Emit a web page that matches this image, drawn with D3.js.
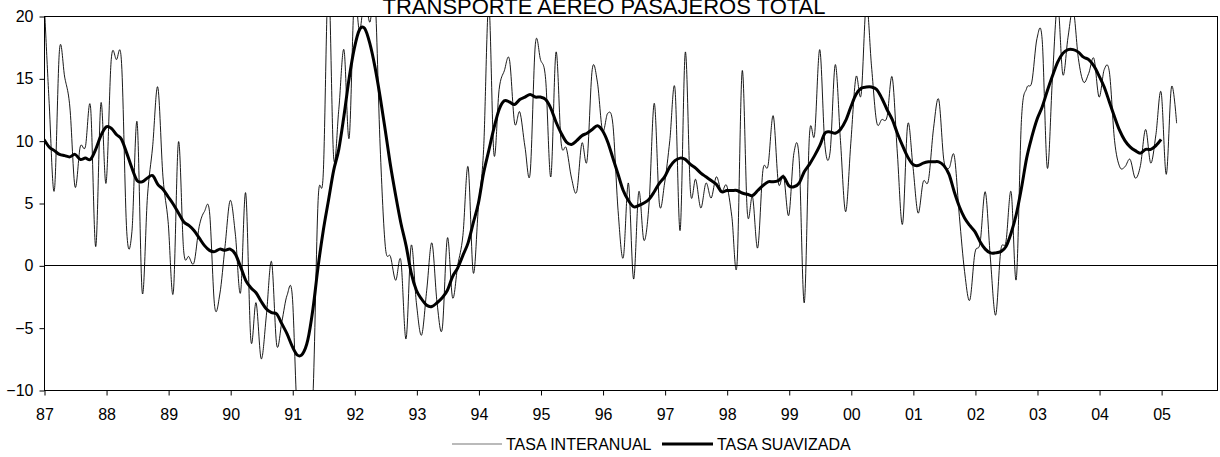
<!DOCTYPE html>
<html>
<head>
<meta charset="utf-8">
<script src="https://cdn.jsdelivr.net/npm/d3@7"></script>
<style>
  body { margin: 0; background: #fff; }
  svg { display: block; }
  text { font-family: Arial, "Liberation Sans", sans-serif; fill: #000; }
</style>
</head>
<body>
<svg id="chart" width="1220" height="457"></svg>
<script>
// Chart text
const chartTitle = 'TRANSPORTE AEREO PASAJEROS TOTAL';
const seriesNames = ['TASA INTERANUAL', 'TASA SUAVIZADA'];

// Category axis: months from Jan 87 to Dec 05, labelled once a year
const monthCount = 228;
const yearLabels = ['87', '88', '89', '90', '91', '92', '93', '94', '95', '96',
  '97', '98', '99', '00', '01', '02', '03', '04', '05'];
const yTicks = [-10, -5, 0, 5, 10, 15, 20];

// Monthly year-on-year rate (thin line), Jan 87 - Apr 05
const tasaInteranual = [
  21.5, 13, 6.0, 17.3, 15.1, 12.7, 6.3, 9.5, 9.5, 12.7, 1.5, 13.0,
  6.6, 16.5, 16.5, 16.2, 2.7, 2.7, 11.5, -2.2, 5.5, 9.5, 14.3, 7.1,
  3.5, -2.2, 9.9, 1.2, 0.7, 0.2, 3.1, 4.3, 4.3, -3.3, -2.3, 1.5,
  5.2, 2.5, -2.2, 5.8, -6.0, -3.0, -7.5, -4.0, 0.3, -6.4, -4.5, -2.4,
  -2.4, -12, -10.1, -13, -10.5, 5.2, 7.4, 23, 8.7, 12.5, 17.3, 10.2,
  21.5, 18.8, 21.5, 19.5, 21.5, 9.5, 1.5, 0.7, -1.2, 0.4, -5.9, 1.6,
  -3.0, -5.6, -2.0, 1.8, -3.0, -5.1, 2.2, -2.6, 0.0, 2.4, 7.9, -0.6,
  4.7, 9.3, 21, 8.9, 14.1, 15.6, 16.5, 11.4, 12.3, 9.5, 7.4, 17.7,
  16.5, 14.9, 7.1, 17.1, 9.8, 9.4, 7.0, 5.9, 9.8, 8.4, 15.7, 14.7,
  10.8, 12.2, 11.3, 4.4, 0.6, 6.6, -1.1, 5.9, 2.0, 5.0, 13.0, 4.9,
  6.6, 10.0, 14.2, 2.8, 17.1, 5.9, 6.9, 4.6, 6.6, 5.4, 7.1, 5.9,
  6.4, 3.9, 0.1, 15.6, 4.2, 5.5, 1.4, 7.6, 8.0, 12.0, 6.6, 7.2,
  4.0, 9.0, 8.6, -3.0, 10.4, 10.5, 17.3, 9.6, 9.1, 16.1, 10.0, 4.3,
  9.8, 15.1, 13.7, 21, 16, 11.5, 11.7, 11.9, 15.1, 9.0, 3.3, 11.3,
  8.0, 4.2, 6.7, 6.8, 11.0, 13.3, 8.4, 7.8, 8.8, 3.9, -0.5, -2.8,
  1.0, 1.8, 5.9, 0.5, -4.0, 1.2, 1.9, 5.9, -1.1, 11.7, 14.2, 14.7,
  18.2, 18.1, 7.8, 15.1, 21, 15.3, 18.3, 20.5, 16.6, 14.7, 15.4, 16.6,
  13.5, 15.7, 15.5, 10.0, 7.9, 7.9, 8.5, 7.0, 8.0, 10.9, 8.2, 10.5,
  13.9, 7.3, 14.3, 11.4
];

// Smoothed rate (thick line), Jan 87 - Jan 05
const tasaSuavizada = [
  10.1, 9.5, 9.2, 8.9, 8.8, 8.7, 8.9, 8.5, 8.6, 8.5, 9.3, 10.4,
  11.1, 11.0, 10.5, 10.1, 9.0, 7.8, 6.8, 6.7, 7.0, 7.2, 6.5, 6.1,
  5.5, 4.9, 4.2, 3.5, 3.2, 2.8, 2.2, 1.6, 1.2, 1.1, 1.3, 1.2,
  1.3, 0.9, -0.1, -1.2, -1.8, -2.2, -2.9, -3.5, -3.8, -3.9, -4.7, -5.5,
  -6.5, -7.2, -7.1, -6.0, -3.5, -0.1, 2.8, 5.2, 7.6, 9.3, 12.0, 15.0,
  17.4, 18.9, 19.0, 17.8, 15.9, 13.5, 10.8, 8.0, 5.6, 3.4, 1.6, -0.6,
  -2.0, -2.7, -3.2, -3.3, -3.0, -2.6, -2.0, -0.9, -0.2, 0.8, 1.8, 3.4,
  5.0, 7.4, 9.2, 11.0, 12.5, 13.2, 13.1, 12.9, 13.3, 13.5, 13.7, 13.5,
  13.5, 13.3, 12.6, 11.5, 10.6, 9.9, 9.7, 10.0, 10.4, 10.6, 10.9, 11.2,
  10.8, 9.9, 8.6, 7.3, 6.0, 5.2, 4.7, 4.8, 5.0, 5.3, 5.9, 6.6,
  7.1, 7.9, 8.4, 8.6, 8.5, 8.1, 7.8, 7.4, 7.1, 6.8, 6.5, 5.9,
  6.0, 6.0, 6.0, 5.8, 5.7, 5.6, 6.0, 6.4, 6.7, 6.7, 6.8, 7.1,
  6.4, 6.3, 6.6, 7.5, 8.1, 8.8, 9.6, 10.6, 10.7, 10.6, 10.9, 11.6,
  12.7, 13.7, 14.2, 14.3, 14.3, 14.1, 13.4, 12.5, 11.7, 10.6, 9.6, 8.7,
  8.1, 8.0, 8.2, 8.3, 8.3, 8.3, 8.0, 7.3, 5.9, 4.7, 3.8, 3.2,
  2.7, 1.9, 1.3, 1.0, 1.0, 1.1, 1.5, 2.6, 4.1, 6.2, 8.6, 10.3,
  11.7, 12.7, 14.0, 15.2, 16.3, 17.0, 17.3, 17.3, 17.1, 16.7, 16.5, 16.0,
  15.2, 14.3, 13.1, 11.9, 10.8, 10.0, 9.5, 9.2, 9.0, 9.3, 9.3, 9.6,
  10.1
];

const svg = d3.select('#chart');

// Plot area
const plot = { left: 44, right: 1218, top: 16, bottom: 390 };

const x = d3.scaleLinear()
  .domain([0, monthCount - 1])
  .range([plot.left, plot.right]);

const y = d3.scaleLinear()
  .domain([-10, 20])
  .range([plot.bottom, plot.top]);

// Clip so lines that go past the axis range are cut at the frame
svg.append('defs')
  .append('clipPath')
  .attr('id', 'plot-clip')
  .append('rect')
  .attr('x', plot.left)
  .attr('y', plot.top)
  .attr('width', plot.right - plot.left)
  .attr('height', plot.bottom - plot.top);

// Title (top edge of the letters runs off the picture, as in the original)
svg.append('text')
  .attr('x', 604)
  .attr('y', 14)
  .attr('text-anchor', 'middle')
  .style('font-size', '22px')
  .text(chartTitle);

// Zero line
svg.append('line')
  .attr('x1', plot.left)
  .attr('x2', plot.right)
  .attr('y1', Math.round(y(0)) + 0.5)
  .attr('y2', Math.round(y(0)) + 0.5)
  .attr('stroke', '#000')
  .attr('stroke-width', 1);

// Series
const line = d3.line()
  .x((d, i) => x(i))
  .y(d => y(d))
  .curve(d3.curveCardinal);

const series = svg.append('g').attr('clip-path', 'url(#plot-clip)');

series.append('path')
  .datum(tasaInteranual)
  .attr('d', line)
  .attr('fill', 'none')
  .attr('stroke', '#000')
  .attr('stroke-width', 0.9);

series.append('path')
  .datum(tasaSuavizada)
  .attr('d', line)
  .attr('fill', 'none')
  .attr('stroke', '#000')
  .attr('stroke-width', 3)
  .attr('stroke-linejoin', 'round');

// Frame
svg.append('rect')
  .attr('x', plot.left + 0.5)
  .attr('y', plot.top + 0.5)
  .attr('width', plot.right - plot.left - 1)
  .attr('height', plot.bottom - plot.top)
  .attr('fill', 'none')
  .attr('stroke', '#000')
  .attr('stroke-width', 1);

// Axes
const yAxis = svg.append('g')
  .attr('transform', `translate(${plot.left + 0.5},0.5)`)
  .call(d3.axisLeft(y).tickValues(yTicks).tickSize(5).tickSizeOuter(0).tickPadding(6));

const xAxis = svg.append('g')
  .attr('transform', `translate(0.5,${plot.bottom + 0.5})`)
  .call(d3.axisBottom(x)
    .tickValues(yearLabels.map((d, i) => i * 12))
    .tickFormat(d => yearLabels[d / 12])
    .tickSize(5).tickSizeOuter(0).tickPadding(13));

[yAxis, xAxis].forEach(g => {
  g.select('.domain').remove();
  g.selectAll('line').attr('stroke', '#000');
  g.selectAll('text')
    .style('font-size', '16px')
    .style('font-family', 'Arial, "Liberation Sans", sans-serif')
    .attr('fill', '#000');
});

// Legend
const legend = svg.append('g').attr('transform', 'translate(0,444)');
const legendItems = [
  { name: seriesNames[0], x1: 452, x2: 502, width: 1.2, color: '#777' },
  { name: seriesNames[1], x1: 662, x2: 713, width: 3, color: '#000' }
];
legendItems.forEach(d => {
  legend.append('line')
    .attr('x1', d.x1).attr('x2', d.x2)
    .attr('y1', 0).attr('y2', 0)
    .attr('stroke', d.color)
    .attr('stroke-width', d.width);
  legend.append('text')
    .attr('x', d.x2 + 4)
    .attr('y', 5.5)
    .style('font-size', '16px')
    .text(d.name);
});
</script>
</body>
</html>
